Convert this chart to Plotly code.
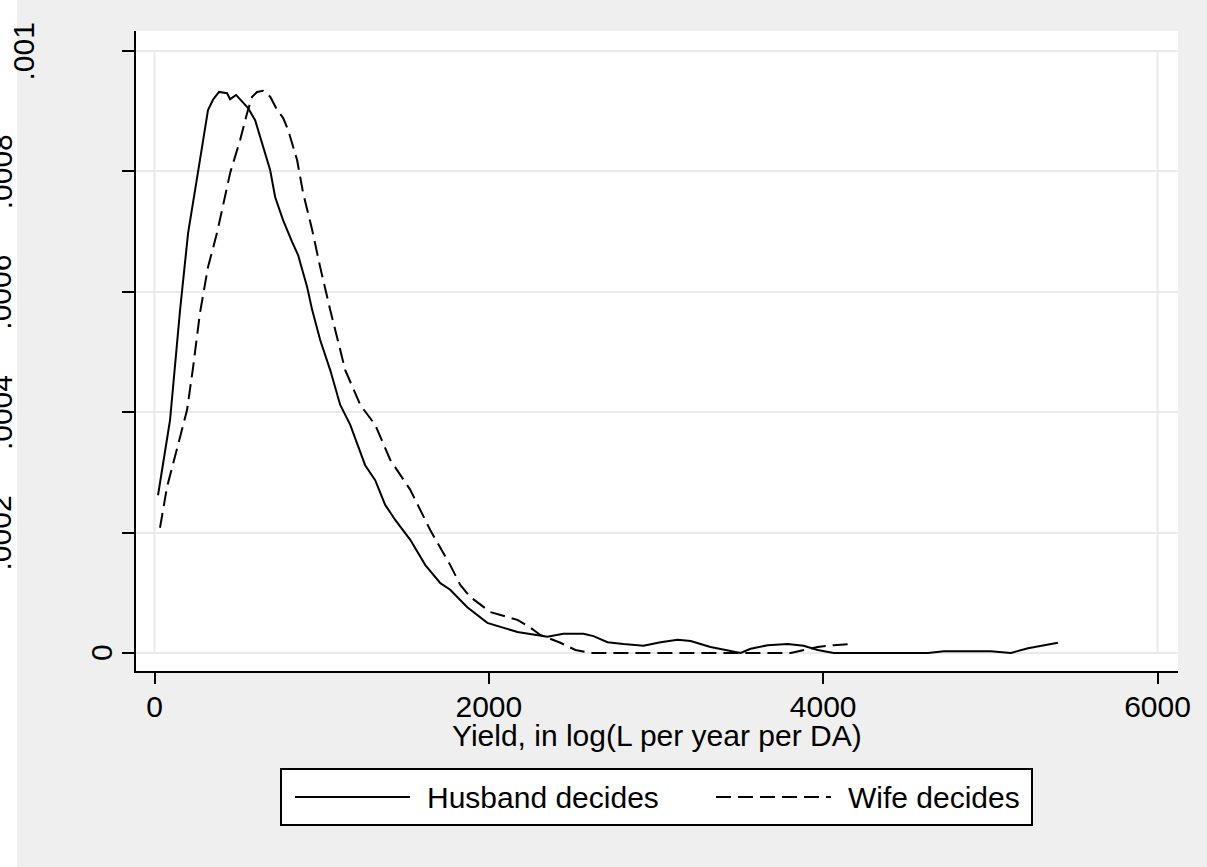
import plotly.graph_objects as go

# ---- data ----
husband_x = [21, 93, 153, 201, 272, 320, 350, 386, 434, 452, 488, 530, 560, 602, 644, 692, 722, 769,
             823, 859, 913, 943, 991, 1051, 1111, 1171, 1260, 1320, 1380, 1440, 1530, 1620, 1710, 1769,
             1871, 1991, 2171, 2350, 2446, 2566, 2626, 2710, 2805, 2925, 3027, 3129, 3207, 3326, 3506,
             3566, 3668, 3788, 3883, 3967, 4063, 4626, 4722, 5003, 5123, 5225, 5404]
husband_y = [2.62, 3.87, 5.70, 6.98, 8.19, 9.02, 9.19, 9.32, 9.30, 9.20, 9.27, 9.15, 9.05, 8.85, 8.47,
             8.02, 7.57, 7.19, 6.83, 6.61, 6.08, 5.70, 5.20, 4.70, 4.12, 3.79, 3.12, 2.87, 2.46, 2.21,
             1.88, 1.46, 1.16, 1.05, 0.76, 0.50, 0.35, 0.27, 0.32, 0.32, 0.28, 0.18, 0.15, 0.12, 0.18,
             0.22, 0.20, 0.10, 0.0, 0.07, 0.13, 0.15, 0.12, 0.05, 0.0, 0.0, 0.03, 0.03, 0.0, 0.08, 0.17]

wife_x = [33, 75, 153, 195, 231, 272, 320, 374, 434, 452, 512, 554, 584, 614, 650, 692, 734, 769, 799,
          853, 889, 943, 991, 1051, 1141, 1231, 1320, 1410, 1530, 1650, 1769, 1829, 1889, 2009, 2171,
          2249, 2308, 2428, 2518, 2608, 3806, 3967, 4063, 4183]
wife_y = [2.08, 2.76, 3.59, 4.04, 4.75, 5.65, 6.41, 6.98, 7.74, 7.97, 8.52, 8.97, 9.24, 9.32, 9.34,
          9.24, 9.02, 8.89, 8.69, 8.19, 7.64, 7.03, 6.41, 5.70, 4.70, 4.12, 3.79, 3.21, 2.71, 2.04,
          1.46, 1.13, 0.93, 0.68, 0.55, 0.42, 0.30, 0.17, 0.05, 0.0, 0.0, 0.10, 0.13, 0.15]

series_names = ["Husband decides", "Wife decides"]
x_ticks = [0, 2000, 4000, 6000]
x_tick_labels = ["0", "2000", "4000", "6000"]
y_ticks = [0, 0.0002, 0.0004, 0.0006, 0.0008, 0.001]
y_tick_labels = ["0", ".0002", ".0004", ".0006", ".0008", ".001"]
x_title = "Yield, in log(L per year per DA)"

SCALE = 1e-4
FONT = "Liberation Sans, Arial, Helvetica, sans-serif"
W, H = 1207, 867
L, R, T, B = 136, 29, 31, 196
PW, PH = W - L - R, H - T - B
GRID = "#eaeaea"


def px_x(p):
    return (p - L) / PW


def px_y(p):
    return (H - B - p) / PH


fig = go.Figure()
fig.add_trace(go.Scatter(x=husband_x, y=[v * SCALE for v in husband_y], mode="lines",
                         name=series_names[0], line=dict(color="black", width=2),
                         showlegend=False))
fig.add_trace(go.Scatter(x=wife_x, y=[v * SCALE for v in wife_y], mode="lines",
                         name=series_names[1], line=dict(color="black", width=2, dash="15px,7px"),
                         showlegend=False))

shapes = []
# white strip at the far left of the picture
shapes.append(dict(type="rect", xref="paper", yref="paper", x0=px_x(-5), x1=px_x(17),
                   y0=px_y(H + 5), y1=px_y(-5), fillcolor="white", line=dict(width=0), layer="below"))
# vertical grid lines only at the first and last x ticks, spanning the y tick range
for xv in (x_ticks[0], x_ticks[-1]):
    shapes.append(dict(type="line", xref="x", yref="y", x0=xv, x1=xv, y0=y_ticks[0], y1=y_ticks[-1],
                       line=dict(color=GRID, width=2), layer="below"))
# legend box
shapes.append(dict(type="rect", xref="paper", yref="paper", x0=px_x(281), x1=px_x(1032),
                   y0=px_y(825), y1=px_y(769), fillcolor="white", line=dict(color="black", width=2)))
shapes.append(dict(type="line", xref="paper", yref="paper", x0=px_x(295), x1=px_x(410),
                   y0=px_y(797), y1=px_y(797), line=dict(color="black", width=2)))
shapes.append(dict(type="line", xref="paper", yref="paper", x0=px_x(716), x1=px_x(831),
                   y0=px_y(797), y1=px_y(797), line=dict(color="black", width=2, dash="15px,7px")))

annotations = []
annotations.append(dict(text=series_names[0], xref="paper", yref="paper", x=px_x(425), y=px_y(797),
                        xanchor="left", yanchor="middle", showarrow=False,
                        font=dict(family=FONT, size=30, color="black")))
annotations.append(dict(text=series_names[1], xref="paper", yref="paper", x=px_x(846), y=px_y(797),
                        xanchor="left", yanchor="middle", showarrow=False,
                        font=dict(family=FONT, size=30, color="black")))
# x axis title
annotations.append(dict(text=x_title, xref="paper", yref="paper", x=0.5, y=px_y(735),
                        xanchor="center", yanchor="middle", showarrow=False,
                        font=dict(family=FONT, size=30, color="black")))
# rotated y tick labels (positions as in the reference)
label_right = {"0": 119.5, ".001": 41.0}
for v, lab in zip(y_ticks, y_tick_labels):
    r = label_right.get(lab, 19.4)
    annotations.append(dict(text=lab, xref="paper", yref="y", x=px_x(r), y=v, xanchor="right",
                            yanchor="middle", textangle=-90, showarrow=False,
                            font=dict(family=FONT, size=30, color="black")))

fig.update_layout(
    width=W, height=H, autosize=False,
    margin=dict(l=L, r=R, t=T, b=B, pad=0),
    paper_bgcolor="#efefef", plot_bgcolor="white",
    font=dict(family=FONT, size=30, color="black"),
    shapes=shapes, annotations=annotations,
    showlegend=False,
)
fig.update_xaxes(range=[-110.7, 6122.5], tickvals=x_ticks, ticktext=x_tick_labels,
                 showline=True, linecolor="black", linewidth=2, mirror=False,
                 ticks="outside", ticklen=11, tickwidth=2, tickcolor="black",
                 showgrid=False, zeroline=False, ticklabelstandoff=-3,
                 tickfont=dict(family=FONT, size=30, color="black"))
fig.update_yaxes(range=[-18 / 602000, 622 / 602000], tickvals=y_ticks, showticklabels=False,
                 showline=True, linecolor="black", linewidth=2, mirror=False,
                 ticks="outside", ticklen=12, tickwidth=2, tickcolor="black",
                 showgrid=True, gridcolor=GRID, gridwidth=2, zeroline=False)

fig.write_html("out.html", config={"displayModeBar": False},
               post_script="document.body.style.margin='0';document.body.style.overflow='hidden';")
